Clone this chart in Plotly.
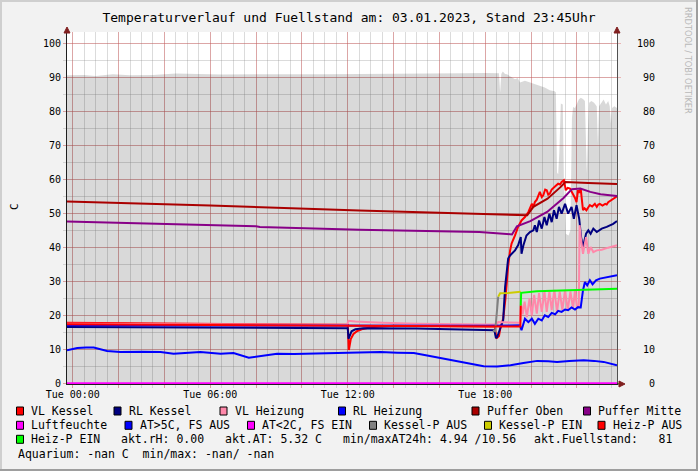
"""Temperaturverlauf und Fuellstand (RRDtool-Nachbau), plotly."""
import plotly.graph_objects as go

# ── Daten, Zeiten HH:MM am 03.01., "-" = Vortag ──
fs_t = ["-23:45", "00:30", "01:00", "01:45", "02:30", "03:30", "04:30", "05:30", "06:30", "08:00",
        "09:30", "11:00", "12:30", "14:00", "15:30", "17:00", "18:00", "18:30", "18:36", "18:39",
        "18:42", "18:46", "18:52", "18:57", "19:10", "19:18", "19:25", "19:31", "19:44", "19:57",
        "20:10", "20:23", "20:36", "20:49", "21:02", "21:05", "21:08", "21:11", "21:14", "21:18",
        "21:23", "21:26", "21:31", "21:38", "21:43", "21:47", "21:50", "21:55", "22:00", "22:05",
        "22:10", "22:16", "22:21", "22:24", "22:26", "22:29", "22:32", "22:38", "22:45", "22:52",
        "22:55", "22:58", "23:03", "23:10", "23:16", "23:22", "23:26", "23:29", "23:32", "23:38",
        "23:45"]
fs_v = [90.6, 90.7, 90.4, 90.9, 90.6, 90.7, 91.1, 90.9, 90.8, 90.9,
        90.8, 90.9, 91.0, 91.0, 91.1, 91.2, 91.3, 91.3, 91.2, 85.6,
        91.0, 91.7, 91.0, 90.9, 90.0, 89.4, 89.8, 88.5, 89.0, 88.5,
        88.2, 87.6, 87.0, 86.2, 85.9, 85.5, 62.0, 61.5, 68.0, 82.3,
        82.0, 60.0, 44.0, 43.5, 45.0, 78.0, 81.3, 81.0, 82.5, 83.5,
        84.0, 83.6, 83.0, 70.0, 61.8, 75.0, 82.5, 83.0, 82.5, 81.5,
        70.6, 81.5, 82.5, 83.5, 82.0, 83.0, 81.5, 76.5, 81.0, 81.5,
        81.0]

vlk_t = ["-23:45", "06:00", "11:55", "12:00", "12:03", "12:08", "12:15", "12:25", "12:40", "13:00",
         "14:00", "16:00", "18:00", "18:25", "18:29", "18:33", "18:36", "18:40", "18:47", "18:53",
         "18:57", "19:00", "19:05", "19:09", "19:18", "19:26", "19:35", "19:44", "19:53", "20:02",
         "20:06", "20:10", "20:15", "20:19", "20:23", "20:28", "20:32", "20:37", "20:41", "20:45",
         "20:49", "20:54", "20:58", "21:04", "21:11", "21:16", "21:20", "21:26", "21:31", "21:36",
         "21:42", "21:46", "21:50", "21:55", "21:59", "22:03", "22:06", "22:10", "22:13", "22:16",
         "22:20", "22:25", "22:30", "22:34", "22:40", "22:47", "22:52", "22:56", "23:00", "23:07",
         "23:14", "23:18", "23:22", "23:28", "23:35", "23:40", "23:45"]
vlk_v = [17.8, 17.6, 17.3, 17.2, 9.8, 13.0, 14.5, 15.4, 16.0, 16.5,
         16.9, 16.9, 16.8, 16.7, 13.2, 13.5, 13.9, 16.5, 19.0, 25.0,
         31.0, 34.5, 39.0, 41.1, 43.5, 46.0, 47.9, 48.9, 50.4, 52.8,
         51.9, 53.3, 54.0, 55.3, 56.3, 54.8, 55.3, 57.0, 56.8, 55.5,
         55.8, 57.0, 57.3, 58.0, 58.7, 58.5, 59.2, 59.7, 56.8, 57.5,
         57.3, 56.5, 55.8, 54.5, 53.3, 56.8, 56.0, 57.3, 54.0, 50.9,
         51.5, 50.9, 51.8, 52.4, 52.0, 52.8, 51.9, 52.6, 52.8, 52.3,
         52.8, 52.6, 53.3, 53.8, 54.3, 54.6, 55.0]

rlk_t = ["-23:45", "06:00", "11:55", "12:00", "12:02", "12:06", "12:10", "12:20", "12:40", "15:00",
         "18:00", "18:24", "18:28", "18:31", "18:35", "18:40", "18:47", "18:52", "18:56", "19:00",
         "19:05", "19:09", "19:18", "19:26", "19:33", "19:35", "19:40", "19:48", "19:57", "20:06",
         "20:10", "20:15", "20:21", "20:28", "20:35", "20:41", "20:48", "20:54", "21:00", "21:07",
         "21:13", "21:20", "21:29", "21:37", "21:46", "21:52", "21:59", "22:06", "22:11", "22:16",
         "22:24", "22:30", "22:36", "22:43", "22:52", "23:05", "23:18", "23:35", "23:45"]
rlk_v = [16.6, 16.5, 16.3, 16.2, 13.1, 14.5, 15.3, 15.9, 16.2, 16.1,
         15.8, 15.6, 13.3, 13.6, 14.8, 16.5, 18.5, 28.3, 33.2, 36.7,
         37.6, 38.1, 39.1, 40.6, 43.0, 38.1, 40.6, 43.5, 44.5, 45.0,
         46.5, 44.5, 47.9, 45.5, 48.9, 46.5, 49.9, 47.4, 50.9, 48.4,
         51.9, 49.9, 52.8, 49.9, 51.9, 48.4, 52.4, 48.4, 43.0, 40.1,
         44.0, 45.0, 44.0, 45.5, 44.5, 45.5, 46.0, 46.9, 47.7]

vlh_t = ["-23:45", "06:00", "11:58", "12:02", "12:20", "13:30", "15:00", "18:00", "18:30", "18:34",
         "19:31", "19:34", "19:38", "19:43", "19:49", "19:56", "20:02", "20:08", "20:15", "20:21",
         "20:28", "20:35", "20:41", "20:48", "20:54", "21:01", "21:08", "21:15", "21:22", "21:29",
         "21:36", "21:43", "21:50", "21:55", "22:00", "22:05", "22:07", "22:10", "22:16", "22:24",
         "22:30", "22:36", "22:43", "22:52", "23:05", "23:22", "23:45"]
vlh_v = [17.5, 17.4, 17.2, 18.4, 18.2, 17.8, 17.5, 17.3, 17.4, 18.0,
         17.8, 23.4, 20.3, 24.0, 19.5, 25.0, 20.0, 26.0, 20.5, 26.5,
         21.0, 27.0, 21.0, 27.0, 21.5, 27.5, 21.0, 27.0, 21.5, 27.5,
         21.5, 27.0, 22.0, 27.5, 22.5, 23.0, 46.5, 43.0, 38.1, 43.0,
         38.1, 40.1, 38.6, 39.1, 39.3, 39.9, 40.6]

rlh_t = ["-23:45", "06:00", "12:00", "18:00", "19:31", "19:35", "19:44", "19:53", "20:02", "20:10",
         "20:19", "20:28", "20:36", "20:45", "20:54", "21:03", "21:11", "21:20", "21:29", "21:37",
         "21:46", "21:55", "22:03", "22:10", "22:16", "22:21", "22:27", "22:34", "22:41", "22:50",
         "23:00", "23:26", "23:45"]
rlh_v = [17.1, 17.0, 16.9, 16.9, 17.1, 15.6, 19.0, 18.0, 19.0, 17.5,
         19.0, 18.5, 20.0, 19.5, 20.7, 20.3, 21.3, 21.0, 21.7, 21.5,
         22.3, 21.7, 22.4, 22.3, 27.4, 29.8, 28.8, 30.3, 29.1, 30.3,
         30.8, 31.3, 31.8]

po_t = ["-23:45", "06:00", "12:30", "18:00", "19:00", "19:50", "20:06", "20:43", "21:17", "21:30",
        "22:30", "23:45"]
po_v = [53.5, 52.3, 50.8, 49.9, 49.6, 49.4, 51.9, 54.3, 57.7, 59.2, 58.9, 58.6]

pm_t = ["-23:45", "06:00", "08:00", "08:10", "12:30", "17:45", "19:10", "19:23", "19:58", "20:42",
        "21:25", "21:47", "22:09", "22:35", "23:02", "23:45"]
pm_v = [47.6, 46.6, 46.2, 46.0, 45.2, 44.5, 43.8, 46.2, 47.7, 50.4, 54.5, 57.1, 57.3, 56.3, 55.6, 55.1]

lf_t = ["-23:45", "23:45"]
lf_v = [0, 0]

at_t = ["-23:45", "00:12", "00:35", "00:55", "01:30", "02:05", "03:00", "03:50", "04:24", "05:00",
        "05:34", "06:27", "07:01", "07:41", "08:11", "08:55", "09:40", "10:22", "11:30", "12:33",
        "13:26", "14:10", "14:53", "15:28", "16:11", "16:37", "17:30", "17:56", "18:31", "19:06",
        "19:40", "20:16", "20:45", "21:08", "21:40", "22:18", "22:45", "23:10", "23:45"]
at_v = [9.7, 10.4, 10.56, 10.5, 9.5, 9.2, 9.3, 9.2, 8.7, 8.9,
        9.2, 8.7, 8.9, 7.5, 7.9, 8.7, 8.6, 8.7, 8.8, 8.9,
        9.2, 9.0, 8.9, 8.2, 7.3, 6.6, 5.6, 5.0, 4.94, 5.3,
        6.0, 6.6, 6.5, 6.3, 6.6, 6.8, 6.6, 6.3, 5.32]

kpa_t = ["18:20", "18:26", "18:34"]
kpa_v = [15.5, 15.3, 25.5]
kpe_t = ["18:34", "18:39", "19:00", "19:33"]
kpe_v = [25.5, 26.5, 26.6, 26.9]
hpa_t = ["-23:45", "12:00", "18:00", "19:32", "19:33"]
hpa_v = [17.4, 17.1, 16.8, 16.7, 22.9]
hpe_t = ["19:33", "19:34", "20:15", "21:42", "22:16", "23:09", "23:45"]
hpe_v = [22.9, 26.6, 27.1, 27.4, 27.6, 27.8, 27.8]

x_ticks = ["00:00", "02:00", "04:00", "06:00", "08:00", "10:00",
           "12:00", "14:00", "16:00", "18:00", "20:00", "22:00"]
x_labels = ["Tue 00:00", "", "", "Tue 06:00", "", "", "Tue 12:00", "", "", "Tue 18:00", "", ""]
y_ticks = [0, 10, 20, 30, 40, 50, 60, 70, 80, 90, 100]

title = "Temperaturverlauf und Fuellstand am: 03.01.2023, Stand 23:45Uhr"
legend_rows = [
    ["VL Kessel", "RL Kessel", "VL Heizung", "RL Heizung", "Puffer Oben", "Puffer Mitte"],
    ["Luftfeuchte", "AT>5C, FS AUS", "AT<2C, FS EIN", "Kessel-P AUS", "Kessel-P EIN", "Heiz-P AUS"],
    ["Heiz-P EIN"],
]
info_row3 = ["akt.rH: 0.00", "akt.AT: 5.32 C", "min/maxAT24h: 4.94 /10.56", "akt.Fuellstand:   81"]
info_row4 = "Aquarium: -nan C  min/max: -nan/ -nan"

COLORS = {
    "VL Kessel": "#FF0000", "RL Kessel": "#000080", "VL Heizung": "#FF88AA",
    "RL Heizung": "#0000FF", "Puffer Oben": "#AA0000", "Puffer Mitte": "#880088",
    "Luftfeuchte": "#FF00FF", "AT>5C, FS AUS": "#0000FF", "AT<2C, FS EIN": "#FF00FF",
    "Kessel-P AUS": "#808080", "Kessel-P EIN": "#CCCC00", "Heiz-P AUS": "#FF0000",
    "Heiz-P EIN": "#00FF00",
}


def ts(lst):
    return [("2023-01-02 " + s[1:]) if s.startswith("-") else ("2023-01-03 " + s) for s in lst]


# ── Geometrie in Pixeln ──
W, H = 698, 471
L, R, T, B = 67, 81, 32, 87
PW, PH = W - L - R, H - T - B


def px(x):
    return (x - L) / PW


def py(y):
    return (H - B - y) / PH


MONO = "DejaVu Sans Mono"
MAJ = "rgba(222,79,79,0.38)"
MIN = "rgba(143,143,143,0.32)"
YR = [-0.2, 103.33]

fig = go.Figure()
fig.add_trace(go.Scatter(x=ts(fs_t), y=fs_v, mode="lines", line=dict(width=0),
                         fill="tozeroy", fillcolor="rgba(0,0,0,0.15)"))
for tt, vv, name in [(vlk_t, vlk_v, "VL Kessel"), (rlk_t, rlk_v, "RL Kessel"),
                     (vlh_t, vlh_v, "VL Heizung"), (rlh_t, rlh_v, "RL Heizung"),
                     (po_t, po_v, "Puffer Oben"), (pm_t, pm_v, "Puffer Mitte"),
                     (at_t, at_v, "AT>5C, FS AUS"), (kpa_t, kpa_v, "Kessel-P AUS"),
                     (kpe_t, kpe_v, "Kessel-P EIN"), (hpa_t, hpa_v, "Heiz-P AUS"),
                     (hpe_t, hpe_v, "Heiz-P EIN")]:
    fig.add_trace(go.Scatter(x=ts(tt), y=vv, mode="lines", name=name,
                             line=dict(color=COLORS[name], width=2)))
fig.add_trace(go.Scatter(x=ts(lf_t), y=lf_v, mode="lines", name="Luftfeuchte", yaxis="y2",
                         line=dict(color=COLORS["Luftfeuchte"], width=2)))

# ── Rahmen, Pfeile, Legendenkästchen ──
shapes = [
    dict(type="line", x0=px(1), x1=px(1), y0=py(0), y1=py(H), line=dict(color="#CFCFCF", width=2)),
    dict(type="line", x0=px(0), x1=px(W), y0=py(1), y1=py(1), line=dict(color="#CFCFCF", width=2)),
    dict(type="line", x0=px(W - 1), x1=px(W - 1), y0=py(0), y1=py(H), line=dict(color="#9E9E9E", width=2)),
    dict(type="line", x0=px(0), x1=px(W), y0=py(H - 1), y1=py(H - 1), line=dict(color="#9E9E9E", width=2)),
    dict(type="line", x0=px(617), x1=px(621), y0=py(384), y1=py(384), line=dict(color="#1F1F1F", width=1)),
]
for ax in (67, 617):
    shapes.append(dict(type="path", path=f"M {px(ax - 3)},{py(33)} L {px(ax + 3)},{py(33)} L {px(ax)},{py(27)} Z",
                       fillcolor="#801F1F", line=dict(color="#801F1F", width=1)))
shapes.append(dict(type="path", path=f"M {px(619)},{py(381)} L {px(619)},{py(387)} L {px(625)},{py(384)} Z",
                   fillcolor="#801F1F", line=dict(color="#801F1F", width=1)))

annotations = [
    dict(text="C", x=px(14), y=py(207), textangle=-90, font=dict(size=11)),
    dict(text="RRDTOOL / TOBI OETIKER", x=px(688), y=py(60), textangle=90,
         font=dict(family="DejaVu Sans", size=8.3, color="#B8B8B8")),
]

row_y = [411, 425.3, 439.3, 453.7]
sq_x = [[20, 117.5, 223.5, 342, 475.5, 587], [20, 128.5, 251, 373, 488, 601.5], [20]]
for r, labels in enumerate(legend_rows):
    for label, cx in zip(labels, sq_x[r]):
        shapes.append(dict(type="rect", x0=px(cx - 3.5), x1=px(cx + 3.5),
                           y0=py(row_y[r] + 4), y1=py(row_y[r] - 4),
                           fillcolor=COLORS[label], line=dict(color="#000000", width=1)))
        annotations.append(dict(text=label, x=px(cx + 9), y=py(row_y[r]), xanchor="left"))
for text, tx in zip(info_row3, [119, 223, 341, 532]):
    annotations.append(dict(text=text.replace("  ", "\u00a0\u00a0"), x=px(tx), y=py(row_y[2]), xanchor="left"))
annotations.append(dict(text=info_row4.replace("  ", "\u00a0\u00a0"), x=px(15.5), y=py(row_y[3]), xanchor="left"))
for a in annotations:
    a.update(xref="paper", yref="paper", showarrow=False, yanchor="middle")
    a.setdefault("xanchor", "center")
    a.setdefault("font", dict(size=11.5))
for s in shapes:
    s.update(xref="paper", yref="paper")

fig.update_layout(
    width=W, height=H,
    margin=dict(l=L, r=R, t=T, b=B),
    paper_bgcolor="#F2F2F2", plot_bgcolor="#FFFFFF",
    showlegend=False,
    font=dict(family=MONO, size=10, color="#000000"),
    title=dict(text=title, x=0.5, xref="container", xanchor="center",
               y=1 - 17 / H, yref="container", yanchor="middle", font=dict(size=13)),
    xaxis=dict(type="date", range=ts(["-23:45", "23:45"]), tickvals=ts(x_ticks), ticktext=x_labels,
               showgrid=True, gridcolor=MAJ, gridwidth=1, ticks="outside", ticklen=3, tickcolor=MAJ,
               minor=dict(dtick=1800000, tick0="2023-01-03 00:00", showgrid=True, gridcolor=MIN,
                          ticks="outside", ticklen=3, tickcolor=MIN),
               showline=True, linecolor="#1F1F1F", linewidth=1, zeroline=False,
               tickfont=dict(size=10), ticklabelstandoff=-2),
    yaxis=dict(range=YR, tickvals=y_ticks, ticktext=[str(v) for v in y_ticks],
               showgrid=True, gridcolor=MAJ, ticks="outside", ticklen=3, tickcolor=MAJ,
               minor=dict(dtick=5, showgrid=True, gridcolor=MIN, ticks="outside", ticklen=3, tickcolor=MIN),
               showline=True, linecolor="#1F1F1F", zeroline=False, tickfont=dict(size=10)),
    yaxis2=dict(range=YR, overlaying="y", side="right", tickvals=y_ticks,
                ticktext=[str(v).rjust(3).replace(" ", "\u00a0") for v in y_ticks],
                showgrid=False, ticks="outside", ticklen=3, tickcolor=MAJ, ticklabelstandoff=14,
                showline=True, linecolor="#505050", zeroline=False, tickfont=dict(size=10)),
    shapes=shapes,
    annotations=annotations,
)
# Seitenrand des Browsers entfernen, damit das Bild bei (0,0) beginnt
fig.write_html("out.html", config={"displayModeBar": False},
               post_script="document.body.style.margin='0';")
